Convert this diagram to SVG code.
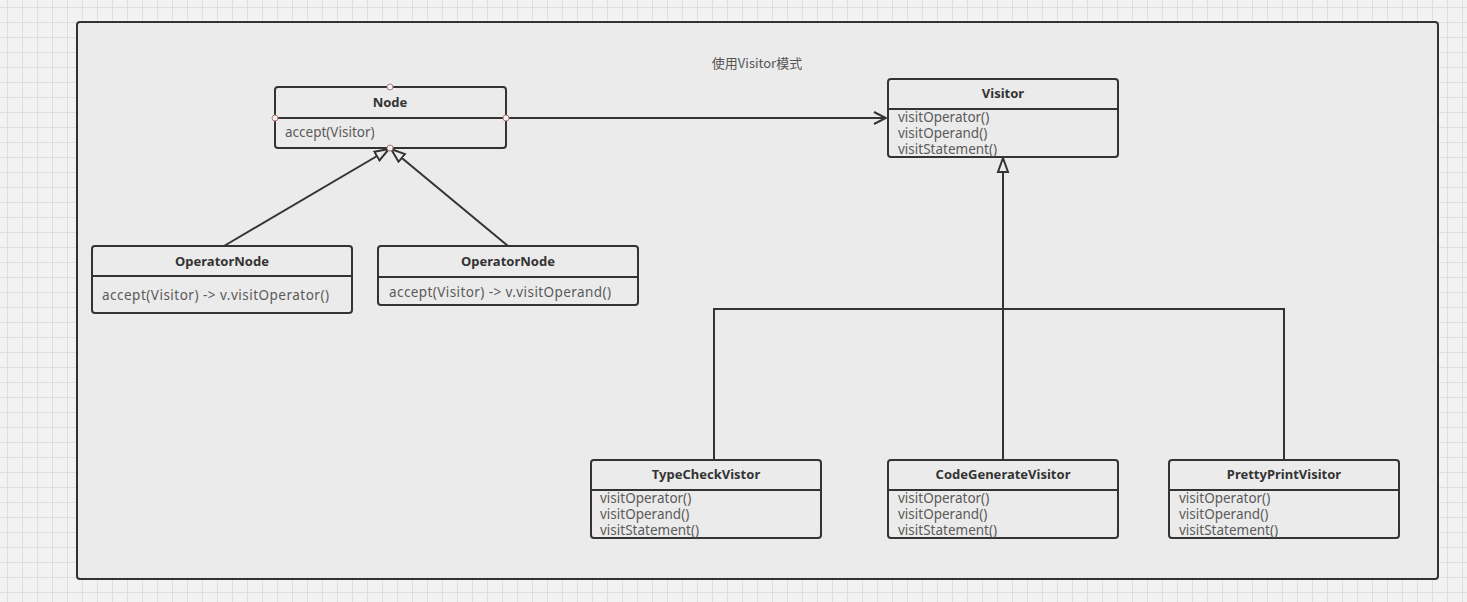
<svg xmlns="http://www.w3.org/2000/svg" width="1467" height="602" viewBox="0 0 1467 602">
<defs>
<pattern id="grid" x="7" y="7" width="15" height="15" patternUnits="userSpaceOnUse">
<rect width="15" height="15" fill="#f2f2f2"/>
<path d="M0 0.5H15M0.5 0V15" stroke="#dedede" stroke-width="1" fill="none"/>
</pattern>
<marker id="open" viewBox="0 0 14 14" refX="13" refY="7" markerWidth="14" markerHeight="14" markerUnits="userSpaceOnUse" orient="auto">
<path d="M1 1L13 7L1 13" fill="none" stroke="#333" stroke-width="2"/>
</marker>
<marker id="tri" viewBox="0 0 16 14" refX="15" refY="7" markerWidth="16" markerHeight="14" markerUnits="userSpaceOnUse" orient="auto">
<path d="M1 2L15 7L1 12Z" fill="#ebebeb" stroke="#333" stroke-width="2"/>
</marker>
</defs>
<style>
.box{fill:#ebebeb;stroke:#333;stroke-width:2}
.div{stroke:#333;stroke-width:2}
.title{font-family:"Noto Sans","Open Sans",sans-serif;font-size:13px;font-weight:bold;fill:#333;text-anchor:middle}
.m{font-family:"Noto Sans","Open Sans",sans-serif;font-size:13.5px;fill:#5a5a5a}
.line{stroke:#333;stroke-width:2;fill:none}
.pt{fill:#f2f2f2;stroke:#b07a7a;stroke-width:1}
</style>
<rect width="1467" height="602" fill="url(#grid)"/>
<rect x="77" y="22" width="1361" height="557" rx="3" fill="#ebebeb" stroke="#333" stroke-width="2"/>
<text x="757" y="68" font-family="Noto Sans CJK SC, sans-serif" font-size="13" fill="#555" text-anchor="middle">使用Visitor模式</text>

<g id="connectors">
<line class="line" x1="506" y1="118" x2="886" y2="118" marker-end="url(#open)"/>
<line class="line" x1="224" y1="246" x2="389" y2="149" marker-end="url(#tri)"/>
<line class="line" x1="508" y1="246" x2="391" y2="149" marker-end="url(#tri)"/>
<polyline class="line" points="714,460 714,309 1284,309 1284,460"/>
<line class="line" x1="1003" y1="460" x2="1003" y2="158" marker-end="url(#tri)"/>
</g>

<g id="node">
<rect class="box" x="275" y="87" width="231" height="61" rx="3"/>
<line class="div" x1="275" y1="118" x2="506" y2="118"/>
<text class="title" x="390" y="107">Node</text>
<text class="m" x="285" y="137">accept(Visitor)</text>
<circle class="pt" cx="390" cy="87" r="3"/>
<circle class="pt" cx="275" cy="118" r="3"/>
<circle class="pt" cx="506" cy="118" r="3"/>
<circle class="pt" cx="390" cy="148" r="3"/>
</g>

<g id="visitor">
<rect class="box" x="888" y="79" width="230" height="78" rx="3"/>
<line class="div" x1="888" y1="109" x2="1118" y2="109"/>
<text class="title" x="1003" y="98">Visitor</text>
<text class="m" x="898" y="122">visitOperator()</text>
<text class="m" x="898" y="138">visitOperand()</text>
<text class="m" x="898" y="154">visitStatement()</text>
</g>

<g id="operatorNode1">
<rect class="box" x="92" y="246" width="260" height="67" rx="3"/>
<line class="div" x1="92" y1="276" x2="352" y2="276"/>
<text class="title" x="222" y="266">OperatorNode</text>
<text class="m" x="102" y="300" textLength="227" lengthAdjust="spacing">accept(Visitor) -&gt; v.visitOperator()</text>
</g>

<g id="operatorNode2">
<rect class="box" x="378" y="246" width="260" height="59" rx="3"/>
<line class="div" x1="378" y1="277" x2="638" y2="277"/>
<text class="title" x="508" y="266">OperatorNode</text>
<text class="m" x="389" y="297" textLength="222" lengthAdjust="spacing">accept(Visitor) -&gt; v.visitOperand()</text>
</g>

<g id="typeCheckVistor">
<rect class="box" x="591" y="460" width="230" height="78" rx="3"/>
<line class="div" x1="591" y1="490" x2="821" y2="490"/>
<text class="title" x="706" y="479">TypeCheckVistor</text>
<text class="m" x="600" y="503">visitOperator()</text>
<text class="m" x="600" y="519">visitOperand()</text>
<text class="m" x="600" y="535">visitStatement()</text>
</g>

<g id="codeGenerateVisitor">
<rect class="box" x="888" y="460" width="230" height="78" rx="3"/>
<line class="div" x1="888" y1="490" x2="1118" y2="490"/>
<text class="title" x="1003" y="479">CodeGenerateVisitor</text>
<text class="m" x="898" y="503">visitOperator()</text>
<text class="m" x="898" y="519">visitOperand()</text>
<text class="m" x="898" y="535">visitStatement()</text>
</g>

<g id="prettyPrintVisitor">
<rect class="box" x="1169" y="460" width="230" height="78" rx="3"/>
<line class="div" x1="1169" y1="490" x2="1399" y2="490"/>
<text class="title" x="1284" y="479">PrettyPrintVisitor</text>
<text class="m" x="1179" y="503">visitOperator()</text>
<text class="m" x="1179" y="519">visitOperand()</text>
<text class="m" x="1179" y="535">visitStatement()</text>
</g>
</svg>
